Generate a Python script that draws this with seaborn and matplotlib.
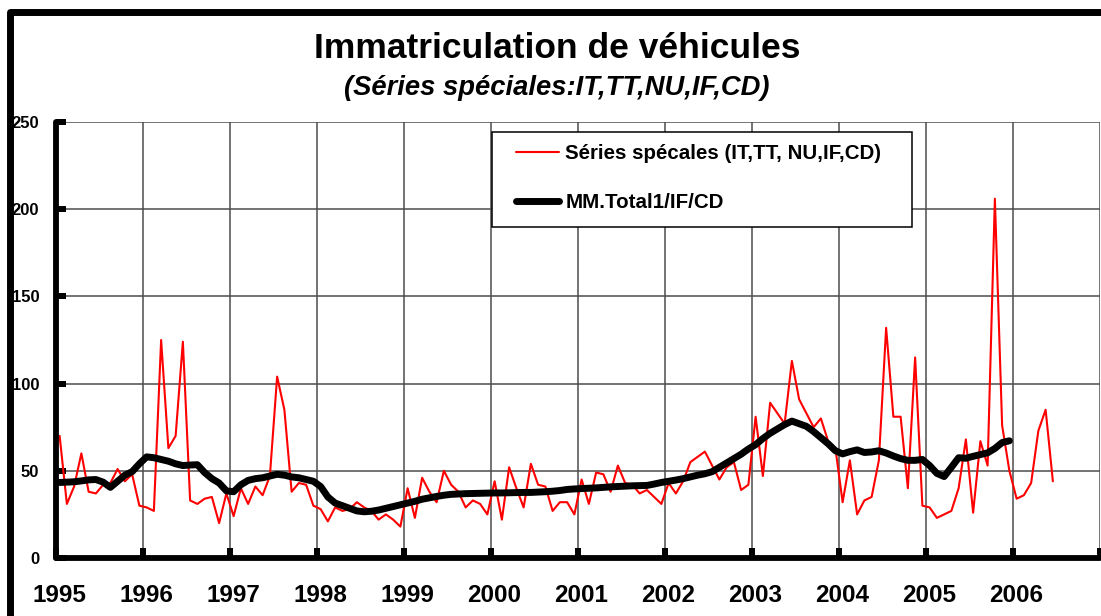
import numpy as np
import pandas as pd
import matplotlib
matplotlib.use("Agg")
import matplotlib.pyplot as plt
import matplotlib.transforms as mtransforms
from matplotlib.lines import Line2D
from matplotlib.patches import Rectangle
import seaborn as sns

# monthly values, Jan 1995 -> Jun 2006
series_speciales = [
    70, 31, 41, 60, 38, 37, 42, 43, 51, 44, 48, 30,      # 1995
    29, 27, 125, 63, 70, 124, 33, 31, 34, 35, 20, 37,    # 1996
    24, 40, 31, 41, 36, 47, 104, 85, 38, 43, 42, 30,     # 1997
    28, 21, 29, 27, 28, 32, 29, 27, 22, 25, 22, 18,      # 1998
    40, 23, 46, 38, 32, 50, 42, 38, 29, 33, 31, 25,      # 1999
    44, 22, 52, 40, 29, 54, 42, 41, 27, 32, 32, 25,      # 2000
    45, 31, 49, 48, 38, 53, 43, 42, 37, 39, 35, 31,      # 2001
    43, 37, 44, 55, 58, 61, 53, 45, 52, 55, 39, 42,      # 2002
    81, 47, 89, 83, 77, 113, 91, 83, 75, 80, 67, 63,     # 2003
    32, 56, 25, 33, 35, 56, 132, 81, 81, 40, 115, 30,    # 2004
    29, 23, 25, 27, 40, 68, 26, 67, 53, 206, 76, 50,     # 2005
    34, 36, 43, 73, 85, 44,                              # 2006
]

# moving average, Jan 1995 -> Dec 2005
mm_total = [
    43.3, 43.5, 43.7, 44.2, 44.8, 45.0, 43.5, 40.5, 44.0, 47.5, 49.5, 54.0,
    58.0, 57.5, 56.5, 55.5, 54.0, 53.0, 53.3, 53.5, 49.0, 45.5, 43.0, 38.5,
    38.0, 42.0, 44.5, 45.5, 46.0, 47.0, 48.0, 47.5, 46.5, 46.0, 45.0, 44.0,
    41.0, 35.0, 31.5, 30.0, 28.5, 27.0, 26.5, 26.8, 27.5, 28.5, 29.5, 30.5,
    31.5, 32.5, 33.7, 34.5, 35.3, 36.0, 36.5, 36.7, 36.9, 37.0, 37.1, 37.2,
    37.3, 37.3, 37.4, 37.5, 37.6, 37.6, 37.8, 38.0, 38.3, 38.7, 39.3, 39.6,
    39.8, 40.0, 40.2, 40.5, 40.8, 41.0, 41.2, 41.4, 41.5, 41.6, 42.4, 43.3,
    44.0, 44.7, 45.5, 46.5, 47.5, 48.3, 49.5, 52.0, 54.5, 57.0, 59.5, 62.5,
    65.0, 68.5, 71.5, 74.0, 76.5, 78.5, 77.0, 75.5, 72.5, 69.0, 65.5, 61.5,
    59.7, 61.0, 62.0, 60.5, 60.8, 61.5, 60.2, 58.5, 57.0, 56.0, 56.0, 56.5,
    53.0, 48.5, 46.7, 52.0, 57.5, 57.2, 58.3, 59.3, 60.3, 62.8, 66.2, 67.2,
]

years = list(range(1995, 2008))
year_labels = [str(y) for y in range(1995, 2007)] + [""]
y_ticks = [0, 50, 100, 150, 200, 250]

label_red = "Séries spécales (IT,TT, NU,IF,CD)"
label_mm = "MM.Total1/IF/CD"

# points sit in the middle of each month
df_red = pd.DataFrame({"t": 1995 + (np.arange(len(series_speciales)) + 0.5) / 12,
                       "v": series_speciales})
df_mm = pd.DataFrame({"t": 1995 + (np.arange(len(mm_total)) + 0.5) / 12,
                      "v": mm_total})

sns.set_style("white")
plt.rcParams["font.family"] = ["Liberation Sans", "DejaVu Sans"]
plt.rcParams["text.color"] = "black"
plt.rcParams["xtick.labelcolor"] = "black"
plt.rcParams["ytick.labelcolor"] = "black"

W, H = 1101, 616
fig = plt.figure(figsize=(W / 100, H / 100), dpi=100)
ax_l, ax_r, ax_b, ax_t = 56, 1100, 558, 122
ax = fig.add_axes([ax_l / W, (H - ax_b) / H, (ax_r - ax_l) / W, (ax_b - ax_t) / H])

sns.lineplot(data=df_red, x="t", y="v", ax=ax, color="#ff0000", linewidth=1.5,
             label=label_red)
sns.lineplot(data=df_mm, x="t", y="v", ax=ax, color="black", linewidth=5,
             solid_capstyle="round", solid_joinstyle="round", label=label_mm)

ax.set_xlim(1995, 2007)
ax.set_ylim(0, 250)
ax.set_xlabel("")
ax.set_ylabel("")
ax.set_xticks(years)
ax.set_xticklabels(year_labels, fontsize=17.5, fontweight="bold", color="black")
ax.set_yticks(y_ticks)
ax.set_yticklabels([str(v) for v in y_ticks], fontsize=12, fontweight="bold",
                   color="black")

ax.grid(True, color="#4d4d4d", linewidth=1.1)
ax.set_axisbelow(True)
for s in ["top", "right"]:
    ax.spines[s].set_visible(False)
for s in ["left", "bottom"]:
    ax.spines[s].set_visible(True)
    ax.spines[s].set_color("black")
    ax.spines[s].set_linewidth(4.2)
    ax.spines[s].set_capstyle("round")

ax.tick_params(axis="x", bottom=True, direction="in", length=7, width=4.3,
               color="black", pad=19)
ax.tick_params(axis="y", left=True, direction="in", length=7, width=4.3,
               color="black", pad=12)
shift = mtransforms.ScaledTranslation(3 / 100, 0, fig.dpi_scale_trans)
for lab in ax.get_xticklabels():
    lab.set_transform(lab.get_transform() + shift)

# legend box drawn by hand, legend itself without frame
def ax_frac(px, py):
    return (px - ax_l) / (ax_r - ax_l), (ax_b - py) / (ax_b - ax_t)

bx0, by0 = ax_frac(492, 227)
bx1, by1 = ax_frac(912, 132)
ax.add_patch(Rectangle((bx0, by0), bx1 - bx0, by1 - by0, transform=ax.transAxes,
                       facecolor="white", edgecolor="black", linewidth=1.1, zorder=4))
lx, ly = ax_frac(516, 144)
handles = [Line2D([], [], color="#ff0000", linewidth=1.5),
           Line2D([], [], color="black", linewidth=5, solid_capstyle="round")]
ax.legend(handles, [label_red, label_mm], loc="upper left", bbox_to_anchor=(lx, ly),
          frameon=False, borderpad=0, borderaxespad=0, handlelength=2.1,
          handletextpad=0.3, labelspacing=1.45,
          prop={"size": 14.8, "weight": "bold"})

# titles
fig.text(557 / W, 1 - 48 / H, "Immatriculation de véhicules", ha="center", va="center",
         fontsize=25.5, fontweight="bold")
fig.text(557 / W, 1 - 88 / H, "(Séries spéciales:IT,TT,NU,IF,CD)", ha="center",
         va="center", fontsize=19.7, fontweight="bold", fontstyle="italic")

# chart area border (top and left edges visible)
fig.add_artist(Line2D([9.5 / W, 9.5 / W, 1.02], [-0.02, 1 - 11.5 / H, 1 - 11.5 / H],
                      transform=fig.transFigure, color="black", linewidth=5,
                      solid_joinstyle="round"))

fig.savefig("out.png", dpi=100)
plt.close(fig)
